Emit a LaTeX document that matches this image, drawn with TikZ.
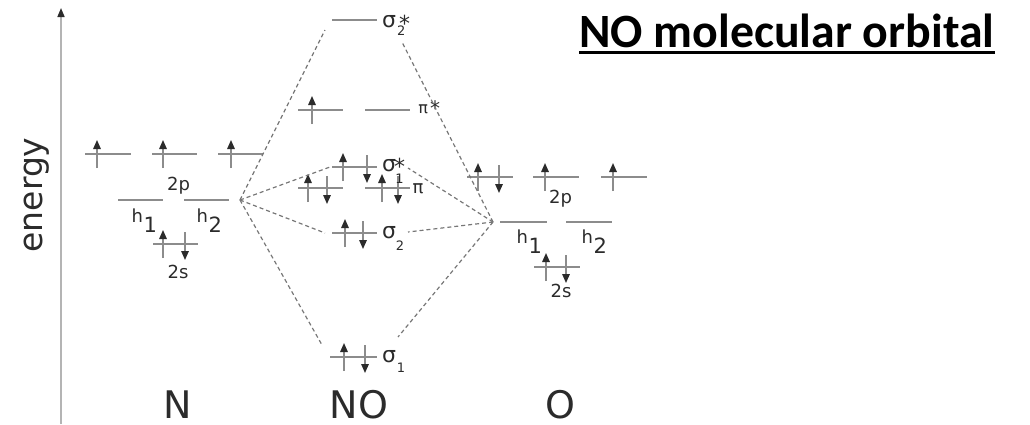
\documentclass[tikz,border=0pt]{standalone}
\usepackage{fontspec}
\setmainfont{DejaVu Sans}
\newfontfamily\titlefont{Carlito}
\usetikzlibrary{arrows.meta}
\definecolor{lvlgray}{HTML}{8C8C8C}
\definecolor{ink}{HTML}{2B2B2B}
\definecolor{dashgray}{HTML}{777777}
\definecolor{axisgray}{HTML}{B4B4B4}

% an energy level: name, left x, right x, height
\newcommand\molevel[4]{\draw[lvl] (#2,#4) coordinate (#1-l) -- (#3,#4) coordinate (#1-r);}
% electrons with spin up / spin down on a level at height #2
\newcommand\espinup[2]{\draw[spin] (#1,{#2+14}) -- (#1,{#2-14});}
\newcommand\espindown[2]{\draw[spin] (#1,{#2-12}) -- (#1,{#2+16});}
% lowered index and raised star, set by hand
\newcommand\lowidx[3]{\kern#1pt\raisebox{-#2pt}{\fontsize{13}{13}\selectfont #3}}
\newcommand\hidx[1]{\kern0.5pt\raisebox{-10pt}{\fontsize{21}{21}\selectfont #1}}
\newcommand\starmark[2]{\rlap{\kern#1pt\raisebox{#2pt}{\fontsize{22}{22}\selectfont *}}}

\begin{document}
\begin{tikzpicture}[x=1pt,y=-1pt,
  lvl/.style={draw=lvlgray,line width=1.6pt},
  spin/.style={draw=lvlgray,line width=1.5pt,-{Triangle[length=9pt,width=7.5pt,color=ink]}},
  corr/.style={draw=dashgray,line width=1.2pt,dash pattern=on 4pt off 3pt},
  lab/.style={text=ink,inner sep=0pt,anchor=base,font=\fontsize{18}{18}\selectfont},
  hlab/.style={lab,anchor=base west},
  sig/.style={lab,anchor=base west,font=\fontsize{22}{22}\selectfont},
  atom/.style={lab,font=\fontsize{38}{38}\selectfont},
]
\useasboundingbox (0,0) rectangle (1030,424);

% energy axis
\coordinate (axisbot) at (61,424);
\coordinate (axistop) at (61,8);
\draw[draw=axisgray,line width=1.6pt,-{Triangle[length=9pt,width=7pt,color=ink]}] (axisbot) -- (axistop);
\node[lab,font=\fontsize{33}{33}\selectfont,rotate=90] (energy) at (42,195) {energy};

% title
\node[inner sep=0pt,anchor=base west,font=\titlefont\bfseries\fontsize{47.8}{47.8}\selectfont] (title) at (579,47) {NO molecular orbital};
\draw[line width=3.5pt] ([yshift=-5.5pt]title.base west) -- ([yshift=-5.5pt]title.base east);

% ---- N ----
\molevel{N2pa}{85}{131}{154}
\molevel{N2pb}{152}{197}{154}
\molevel{N2pc}{218}{263}{154}
\molevel{Nh1}{118}{163}{200}
\molevel{Nh2}{184}{229}{200}
\molevel{N2s}{153}{198}{244}
\espinup{97}{154}
\espinup{163}{154}
\espinup{231}{154}
\espinup{163}{244}
\espindown{185}{244}
\node[lab] (N2plab) at (178.5,190) {2p};
\node[hlab] (Nh1lab) at (131.5,222) {h\hidx{1}};
\node[hlab] (Nh2lab) at (196.5,222) {h\hidx{2}};
\node[lab] (N2slab) at (178,278) {2s};
\node[atom] (Nname) at (178,418) {N};

% ---- O ----
\molevel{O2pa}{467}{513}{177}
\molevel{O2pb}{533}{579}{177}
\molevel{O2pc}{601}{647}{177}
\molevel{Oh1}{500}{547}{222}
\molevel{Oh2}{566}{612}{222}
\molevel{O2s}{534}{580}{267}
\espinup{478}{177}
\espindown{499}{177}
\espinup{545}{177}
\espinup{613}{177}
\espinup{546}{267}
\espindown{566}{267}
\node[lab] (O2plab) at (560.5,203) {2p};
\node[hlab] (Oh1lab) at (516.5,243) {h\hidx{1}};
\node[hlab] (Oh2lab) at (581.5,243) {h\hidx{2}};
\node[lab] (O2slab) at (561,297) {2s};
\node[atom] (Oname) at (560,418) {O};

% ---- NO ----
\molevel{sigBB}{332}{377}{20}
\molevel{piBa}{298}{343}{110}
\molevel{piBb}{365}{410}{110}
\molevel{sigAB}{332}{377}{167}
\molevel{pia}{298}{343}{188}
\molevel{pib}{365}{410}{188}
\molevel{sigB}{332}{377}{233}
\molevel{sigA}{330}{377}{357}
\espinup{312}{110}
\espinup{343}{167}
\espindown{367}{167}
\espinup{308}{188}
\espindown{327}{188}
\espinup{382}{188}
\espindown{398}{188}
\espinup{345}{233}
\espindown{363}{233}
\espinup{344}{357}
\espindown{365}{357}

\node[sig] (sigBBlab) at (382,27) {σ\starmark{3}{-4}\lowidx{1}{8}{2}};
\node[lab,anchor=base west,font=\fontsize{16}{16}\selectfont] (piBlab) at (418.2,113)
  {π\kern2.2pt\raisebox{-2pt}{\fontsize{20}{20}\selectfont *}};
\node[sig] (sigABlab) at (382,171) {σ\starmark{-2}{-3}\lowidx{-0.7}{12}{1}};
\node[lab] (pilab) at (418,193) {π};
\node[sig] (sigBlab) at (382,238) {σ\lowidx{-0.2}{12}{2}};
\node[sig] (sigAlab) at (382,362) {σ\lowidx{0.8}{10}{1}};
\node[atom] (NOname) at (359,418) {NO};

% correlation lines
\coordinate (Nc) at (240,200);
\coordinate (Oc) at (493,222);
\coordinate (sigBB-n) at (325,30);
\coordinate (sigAB-n) at (330,167);
\coordinate (sigB-n) at (325,233);
\coordinate (sigA-n) at (322,345);
\coordinate (sigBB-o) at (402,42);
\coordinate (sigAB-o) at (408,168);
\coordinate (sigB-o) at (408,232);
\coordinate (sigA-o) at (398,337);
\foreach \m in {sigBB,sigAB,sigB,sigA}{
  \draw[corr] (Nc) -- (\m-n);
  \draw[corr] (Oc) -- (\m-o);
}
\end{tikzpicture}
\end{document}
